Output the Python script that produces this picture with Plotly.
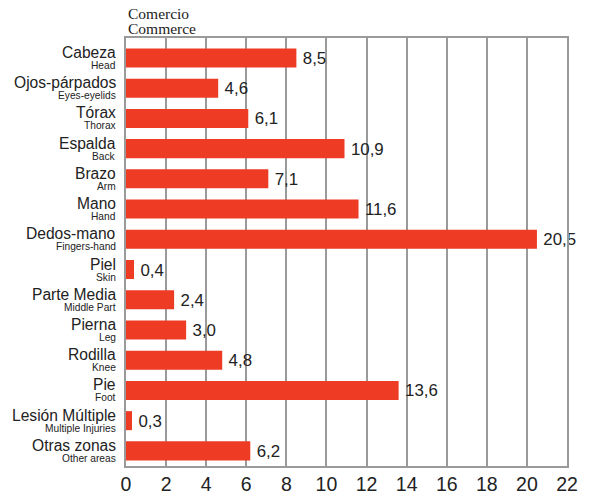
import plotly.graph_objects as go

categories_es = ["Cabeza", "Ojos-párpados", "Tórax", "Espalda", "Brazo", "Mano", "Dedos-mano",
                 "Piel", "Parte Media", "Pierna", "Rodilla", "Pie", "Lesión Múltiple", "Otras zonas"]
categories_en = ["Head", "Eyes-eyelids", "Thorax", "Back", "Arm", "Hand", "Fingers-hand",
                 "Skin", "Middle Part", "Leg", "Knee", "Foot", "Multiple Injuries", "Other areas"]
values = [8.5, 4.6, 6.1, 10.9, 7.1, 11.6, 20.5, 0.4, 2.4, 3.0, 4.8, 13.6, 0.3, 6.2]
x_ticks = list(range(0, 23, 2))

positions = list(range(len(categories_es)))
texts = ["\u2009" + f"{v:.1f}".replace(".", ",") for v in values]

fig = go.Figure(go.Bar(
    y=positions, x=values, orientation="h",
    marker=dict(color="#EE3B24", line=dict(width=0)),
    text=texts, textposition="outside", cliponaxis=False,
    textfont=dict(family="Liberation Sans, Arial", size=19.5, color="#222"),
    width=0.63, hoverinfo="skip",
))

annotations = []
for p, es, en in zip(positions, categories_es, categories_en):
    annotations.append(dict(text=es, x=0, y=p, xref="paper", yref="y", xanchor="right",
                            yanchor="middle", xshift=-8, yshift=5.5, showarrow=False,
                            font=dict(family="Liberation Sans, Arial", size=15.6, color="#222")))
    annotations.append(dict(text=en, x=0, y=p, xref="paper", yref="y", xanchor="right",
                            yanchor="middle", xshift=-8, yshift=-7.5, showarrow=False,
                            font=dict(family="Liberation Sans, Arial", size=10.2, color="#222")))
annotations.append(dict(text="Comercio", x=0, y=1, xref="paper", yref="paper", xanchor="left",
                        yanchor="middle", yshift=25, showarrow=False,
                        font=dict(family="Liberation Serif, DejaVu Serif", size=15.5, color="#222")))
annotations.append(dict(text="Commerce", x=0, y=1, xref="paper", yref="paper", xanchor="left",
                        yanchor="middle", yshift=10, showarrow=False,
                        font=dict(family="Liberation Serif, DejaVu Serif", size=15.5, color="#222")))

fig.update_layout(
    width=592, height=495,
    margin=dict(l=126, r=25, t=38, b=29, autoexpand=False),
    plot_bgcolor="white", paper_bgcolor="white",
    showlegend=False,
    font=dict(family="Liberation Sans, Arial", color="#222"),
    xaxis=dict(range=[0, 22], tickvals=x_ticks, ticktext=[str(t) for t in x_ticks],
               showgrid=True, gridcolor="#9a9a9a", gridwidth=1.5, automargin=False,
               showline=True, linecolor="#9a9a9a", linewidth=1.5, mirror=True,
               zeroline=False, ticks="", tickfont=dict(size=19.5, color="#222"), ticklabelstandoff=0),
    yaxis=dict(range=[13.5, -0.66], showgrid=False, showline=True, linecolor="#9a9a9a",
               linewidth=1.5, mirror=True, ticks="", showticklabels=False, automargin=False,
               zeroline=False),
    annotations=annotations,
)
fig.write_html("out.html", config={"displayModeBar": False},
               post_script="document.body.style.margin='0';document.body.style.overflow='hidden';")
